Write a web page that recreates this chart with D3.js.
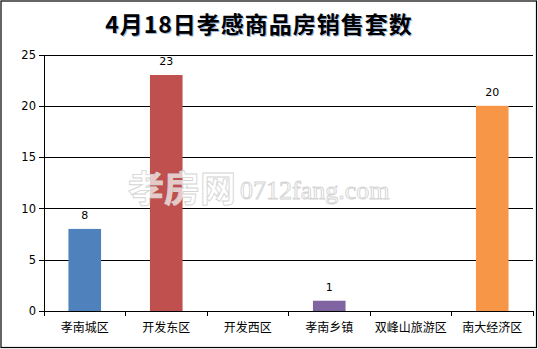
<!DOCTYPE html>
<html>
<head>
<meta charset="utf-8">
<script src="https://cdn.jsdelivr.net/npm/d3@7"></script>
<style>
  body { margin: 0; background: #fff; }
  svg { display: block; }
</style>
</head>
<body>
<div id="chart"></div>
<script>
// data
var categories = ["孝南城区", "开发东区", "开发西区", "孝南乡镇", "双峰山旅游区", "南大经济区"];
var counts = [8, 23, 0, 1, 0, 20];
var barColors = ["#4f81bd", "#c0504d", "#9bbb59", "#8064a2", "#4bacc6", "#f79646"];
var yTicks = [0, 5, 10, 15, 20, 25];
var title = "4月18日孝感商品房销售套数";

var width = 538, height = 349;
var margin = { top: 54.5, right: 5, bottom: 38, left: 44 };
var cjk = "'Noto Sans CJK SC', 'Noto Sans', sans-serif";

var svg = d3.select("#chart").append("svg")
    .attr("width", width)
    .attr("height", height);

// outer frame
svg.append("rect")
    .attr("x", 1).attr("y", 1)
    .attr("width", width - 2.5).attr("height", height - 2.5)
    .attr("fill", "#fff")
    .attr("stroke", "#000")
    .attr("stroke-width", 1.2);

var x = d3.scaleBand()
    .domain(categories)
    .range([margin.left, width - margin.right])
    .padding(0);

var y = d3.scaleLinear()
    .domain([0, 25])
    .range([height - margin.bottom, margin.top]);

// gridlines + y axis
var yAxis = d3.axisLeft(y)
    .tickValues(yTicks)
    .tickSize(-(width - margin.right - margin.left))
    .tickPadding(8)
    .tickSizeOuter(0);

var gy = svg.append("g")
    .attr("transform", "translate(" + margin.left + ",0)")
    .call(yAxis);
gy.select(".domain").remove();
gy.selectAll(".tick line")
    .attr("x1", -5)
    .attr("stroke", "#000")
    .attr("shape-rendering", "crispEdges");
gy.selectAll(".tick text")
    .attr("font-family", "'DejaVu Sans', sans-serif")
    .attr("font-size", 11.5)
    .attr("fill", "#000");

// vertical axis line
svg.append("line")
    .attr("x1", margin.left).attr("x2", margin.left)
    .attr("y1", y(25)).attr("y2", y(0) + 5)
    .attr("stroke", "#000")
    .attr("shape-rendering", "crispEdges");

// bars
var barW = x.bandwidth() * 0.4;
svg.append("g").selectAll("rect")
    .data(categories)
    .join("rect")
    .attr("x", function (d) { return x(d) + (x.bandwidth() - barW) / 2; })
    .attr("y", function (d, i) { return y(counts[i]); })
    .attr("width", barW)
    .attr("height", function (d, i) { return y(0) - y(counts[i]); })
    .attr("fill", function (d, i) { return barColors[i]; });

// value labels (zero values are not labelled)
svg.append("g").selectAll("text")
    .data(categories.filter(function (d, i) { return counts[i] > 0; }))
    .join("text")
    .attr("x", function (d) { return x(d) + x.bandwidth() / 2; })
    .attr("y", function (d) { return y(counts[categories.indexOf(d)]) - 10; })
    .attr("text-anchor", "middle")
    .attr("font-family", "'DejaVu Sans', sans-serif")
    .attr("font-size", 11)
    .text(function (d) { return counts[categories.indexOf(d)]; });

// x axis with ticks at category boundaries
var xAxis = d3.axisBottom(x).tickSize(0).tickPadding(12);
var gx = svg.append("g")
    .attr("transform", "translate(0," + y(0) + ")")
    .call(xAxis);
gx.select(".domain")
    .attr("d", "M" + margin.left + ",0H" + (width - margin.right))
    .attr("stroke", "#000")
    .attr("shape-rendering", "crispEdges");
gx.selectAll(".tick text")
    .attr("font-family", cjk)
    .attr("font-size", 12)
    .attr("fill", "#000");
gx.selectAll(".boundary")
    .data(d3.range(categories.length + 1))
    .join("line")
    .attr("class", "boundary")
    .attr("x1", function (i) { return margin.left + i * x.step(); })
    .attr("x2", function (i) { return margin.left + i * x.step(); })
    .attr("y1", 0).attr("y2", 5)
    .attr("stroke", "#000")
    .attr("shape-rendering", "crispEdges");

// watermark
var wm = svg.append("text")
    .attr("x", 128)
    .attr("y", 202)
    .attr("fill", "#fff")
    .attr("fill-opacity", 0.7)
    .attr("stroke", "#d4d4d4")
    .attr("stroke-width", 0.9);
wm.append("tspan")
    .attr("font-family", cjk)
    .attr("font-weight", "bold")
    .attr("font-size", 36)
    .text("孝房网");
wm.append("tspan")
    .attr("dx", 4)
    .attr("dy", -3)
    .attr("font-family", "'Liberation Serif', serif")
    .attr("font-size", 26)
    .text("0712fang.com");

// title
svg.append("text")
    .attr("x", 259)
    .attr("y", 33)
    .attr("text-anchor", "middle")
    .attr("font-family", cjk)
    .attr("font-weight", "bold")
    .attr("font-size", 23)
    .attr("letter-spacing", 1)
    .attr("fill", "#000")
    .style("text-shadow", "1px 1px 0 #9fb6d6")
    .text(title);
</script>
</body>
</html>
